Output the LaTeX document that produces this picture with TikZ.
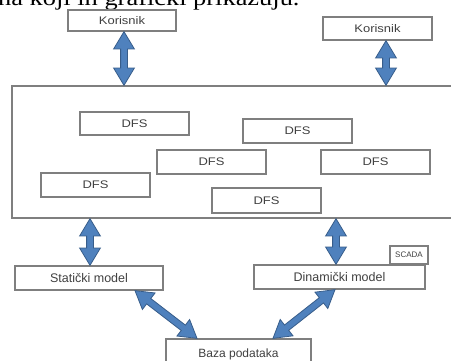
\documentclass[tikz,border=0pt]{standalone}
\usepackage{fontspec}
\setmainfont{Liberation Sans}
\newfontfamily\widesans[FakeStretch=1.18]{Liberation Sans}
\newfontfamily\bodyserif[FakeStretch=1.2]{Liberation Serif}
\usetikzlibrary{shapes.arrows,calc}

\definecolor{boxline}{HTML}{7F7F7F}
\definecolor{arrowfill}{HTML}{4F81BD}
\definecolor{arrowline}{HTML}{385D8A}
\definecolor{labeltext}{HTML}{404040}

\tikzset{
  box/.style={draw=boxline, line width=1.3pt, fill=white, inner sep=0pt, text=labeltext},
  smallbox/.style={box, font=\widesans\fontsize{11}{13}\selectfont},
  bigbox/.style={box, font=\fontsize{12.5}{14}\selectfont},
  blockarrow/.style={double arrow, draw=arrowline, fill=arrowfill, line width=0.8pt,
    inner xsep=0pt, inner ysep=3pt, minimum width=20pt,
    double arrow head extend=7pt, double arrow tip angle=62},
}

% double-headed block arrow between two named points
\newcommand\dblarrow[2]{%
  \path let \p1=($(#2)-(#1)$), \n1={veclen(\x1,\y1)}, \n2={atan2(\y1,\x1)} in
    node[blockarrow, minimum height=\n1, rotate=\n2] at ($(#1)!0.5!(#2)$) {};}

\begin{document}
\begin{tikzpicture}[x=1pt, y=-1pt]
  \useasboundingbox (0,0) rectangle (451,361);
  \clip (0,0) rectangle (451,361);

  % running text line above the figure
  \node[anchor=base west, inner sep=0pt, font=\bodyserif\fontsize{22}{26}\selectfont]
    (caption) at (-2,6) {na koji ih grafički prikazuju.};

  % users
  \node[smallbox, minimum width=108pt, minimum height=21pt] (kor1) at (122,20.5) {Korisnik};
  \node[smallbox, minimum width=109pt, minimum height=23pt] (kor2) at (377.5,28.5) {Korisnik};

  % system frame with the DFS blocks
  \node[box, minimum width=458pt, minimum height=132pt] (main) at (241,152) {};
  \node[smallbox, minimum width=109pt, minimum height=23pt] (d1) at (134.5,123.5) {DFS};
  \node[smallbox, minimum width=109pt, minimum height=24pt] (d2) at (297.5,131) {DFS};
  \node[smallbox, minimum width=109pt, minimum height=24pt] (d3) at (211.5,162) {DFS};
  \node[smallbox, minimum width=109pt, minimum height=24pt] (d4) at (375.5,162) {DFS};
  \node[smallbox, minimum width=109pt, minimum height=24pt] (d5) at (95.5,185) {DFS};
  \node[smallbox, minimum width=109pt, minimum height=25pt] (d6) at (266.5,200.5) {DFS};

  % models and database
  \node[box, minimum width=38pt, minimum height=18pt, font=\fontsize{8}{9}\selectfont]
    (scada) at (409,255) {SCADA};
  \node[bigbox, minimum width=148pt, minimum height=24pt] (stat) at (89,278) {Statički model};
  \node[bigbox, minimum width=171pt, minimum height=24pt] (dyn) at (339.5,277) {Dinamički model};
  \node[bigbox, minimum width=145pt, minimum height=32pt, font=\fontsize{12}{14}\selectfont,
    text depth=0pt] (baza) at (238.5,355) {\raisebox{4pt}{Baza podataka}};

  % connector end points
  \coordinate (a1t) at ([xshift=2pt]kor1.south);
  \coordinate (a1b) at (a1t |- main.north);
  \coordinate (a2t) at ([xshift=8.5pt]kor2.south);
  \coordinate (a2b) at (a2t |- main.north);
  \coordinate (a3b) at ([xshift=1pt]stat.north);
  \coordinate (a3t) at (a3b |- main.south);
  \coordinate (a4b) at ([xshift=-3.5pt]dyn.north);
  \coordinate (a4t) at (a4b |- main.south);
  \coordinate (a5t) at ([xshift=46pt]stat.south);
  \coordinate (a5b) at ([xshift=-41.5pt]baza.north);
  \coordinate (a6t) at ([xshift=-4.5pt]dyn.south);
  \coordinate (a6b) at ([xshift=34.5pt]baza.north);

  % data flows
  \dblarrow{a1t}{a1b}
  \dblarrow{a2t}{a2b}
  \dblarrow{a3t}{a3b}
  \dblarrow{a4t}{a4b}
  \dblarrow{a5t}{a5b}
  \dblarrow{a6t}{a6b}
\end{tikzpicture}
\end{document}
